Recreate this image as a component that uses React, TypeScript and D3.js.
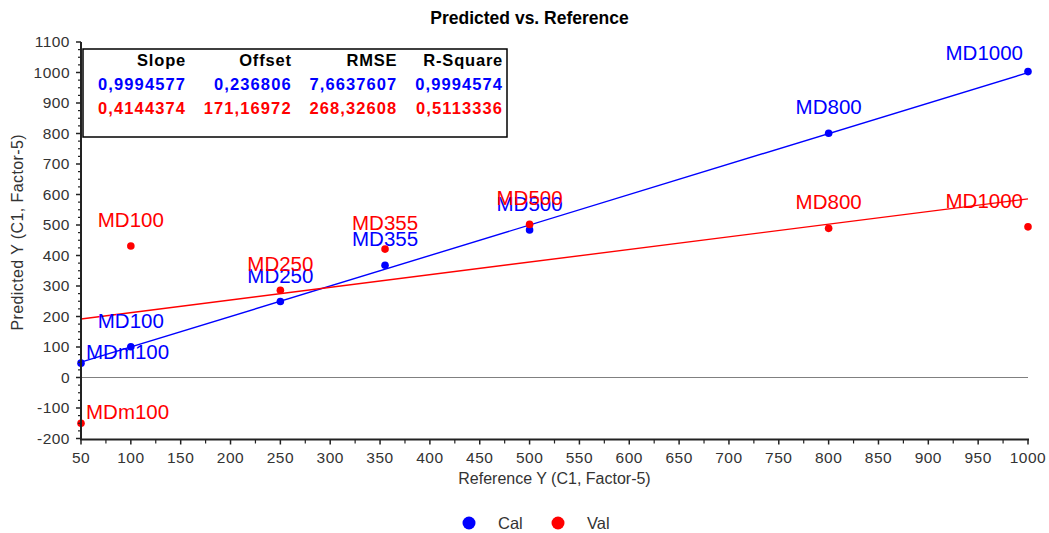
import React from 'react';
import * as d3 from 'd3';

// Sample labels and reference values (x)
const sampleNames = ['MDm100', 'MD100', 'MD250', 'MD355', 'MD500', 'MD800', 'MD1000'];
const referenceY = [50, 100, 250, 355, 500, 800, 1000];

// Predicted values per set
const calPredicted = [47, 101, 249, 368, 484, 801, 1003];
const valPredicted = [-150, 431, 286, 421, 502, 489, 494];

// Regression statistics
const statHeaders = ['Slope', 'Offset', 'RMSE', 'R-Square'];
const calStats = [0.9994577, 0.236806, 7.6637607, 0.9994574];
const valStats = [0.4144374, 171.16972, 268.32608, 0.5113336];

const xTicks = d3.range(50, 1001, 50);
const yTicks = d3.range(-200, 1101, 100);

const W = 1049;
const H = 533;
const FONT = '"Liberation Sans", Arial, sans-serif';

const series = [
  { name: 'Cal', color: '#0000ff', values: calPredicted, stats: calStats },
  { name: 'Val', color: '#ff0000', values: valPredicted, stats: valStats },
];

const fmt = (v: number) => String(v).replace('.', ',');

// rough Arial advance widths (em) for the label glyphs
const charW: Record<string, number> = { M: 0.833, D: 0.722, m: 0.833 };
const textWidth = (s: string, size: number) =>
  s.split('').reduce((acc, c) => acc + (charW[c] ?? 0.556), 0) * size;

export default function App() {
  const left = 81, right = 1028, top = 42, bottom = 438.5;
  const x = d3.scaleLinear().domain([50, 1000]).range([left, right]);
  const y = d3.scaleLinear().domain([-200, 1100]).range([bottom, top]);

  const minorX = d3.range(75, 1000, 50);
  const minorY = d3.range(-175, 1100, 25).filter(v => v % 100 !== 0);

  const line = d3.line<[number, number]>().x(d => x(d[0])).y(d => y(d[1]));

  // label placement: centered above the point, kept inside the plot
  const labelFontSize = 20.5;
  const labelPos = (name: string, px: number, py: number) => {
    const w = textWidth(name, labelFontSize);
    let lx = px - w / 2;
    let ly = py - 19;
    if (lx < left + 5) {
      lx = left + 5;
      ly = py - 4;
    }
    if (lx + w > right - 5) lx = right - 5 - w;
    if (ly - 15 < top + 3) ly = top + 18;
    return { lx, ly };
  };

  const boxX = 83, boxY = 49, boxW = 424, boxH = 88;
  const colRight = (i: number) => boxX + 103 + i * 105.7;
  const rowY = [66, 89.5, 113.5];

  return (
    <svg width={W} height={H} style={{ position: 'absolute', left: 0, top: 0, background: '#fff' }} fontFamily={FONT}>
      <text x={529.5} y={24} textAnchor="middle" fontWeight="bold" fontSize={17.5} fill="#000">
        Predicted vs. Reference
      </text>

      {/* zero line */}
      <line x1={left} x2={right} y1={y(0)} y2={y(0)} stroke="#808080" strokeWidth={1} />

      {/* regression lines */}
      {series.map(s => (
        <path
          key={s.name + '-fit'}
          d={line([[50, s.stats[0] * 50 + s.stats[1]], [1000, s.stats[0] * 1000 + s.stats[1]]]) || ''}
          fill="none"
          stroke={s.color}
          strokeWidth={1.4}
        />
      ))}

      {/* points + labels */}
      {series.map(s => (
        <g key={s.name}>
          {s.values.map((v, i) => (
            <circle key={i} cx={x(referenceY[i])} cy={y(v)} r={3.8} fill={s.color} />
          ))}
          {s.values.map((v, i) => {
            const { lx, ly } = labelPos(sampleNames[i], x(referenceY[i]), y(v));
            return (
              <text key={'l' + i} x={lx} y={ly} fontSize={labelFontSize} fill={s.color}>
                {sampleNames[i]}
              </text>
            );
          })}
        </g>
      ))}

      {/* axes */}
      <line x1={left} x2={left} y1={top} y2={bottom + 1} stroke="#222" strokeWidth={2} />
      <line x1={left - 1} x2={right + 1} y1={bottom + 1} y2={bottom + 1} stroke="#222" strokeWidth={2} />
      {yTicks.map(t => (
        <g key={'yt' + t}>
          <line x1={left - 5} x2={left} y1={y(t)} y2={y(t)} stroke="#222" strokeWidth={1.5} />
          <text x={left - 11} y={y(t)} dy="0.35em" textAnchor="end" fontSize={15.5} letterSpacing={0.5} fill="#333">
            {t}
          </text>
        </g>
      ))}
      {minorY.map(t => (
        <line key={'ym' + t} x1={left - 3} x2={left} y1={y(t)} y2={y(t)} stroke="#222" strokeWidth={1.2} />
      ))}
      {xTicks.map(t => (
        <g key={'xt' + t}>
          <line x1={x(t)} x2={x(t)} y1={bottom + 1} y2={bottom + 6} stroke="#222" strokeWidth={1.5} />
          <text x={x(t)} y={463} textAnchor="middle" fontSize={15.5} letterSpacing={0.5} fill="#333">
            {t}
          </text>
        </g>
      ))}
      {minorX.map(t => (
        <line key={'xm' + t} x1={x(t)} x2={x(t)} y1={bottom + 1} y2={bottom + 5} stroke="#222" strokeWidth={1.2} />
      ))}

      <text x={(left + right) / 2} y={484} textAnchor="middle" fontSize={16} fill="#333">
        Reference Y (C1, Factor-5)
      </text>
      <text transform={`translate(23, ${(top + bottom) / 2 - 8}) rotate(-90)`} textAnchor="middle" fontSize={16} letterSpacing={0.4} fill="#333">
        Predicted Y (C1, Factor-5)
      </text>

      {/* stats box */}
      <rect x={boxX} y={boxY} width={boxW} height={boxH} fill="#fff" stroke="#000" strokeWidth={1.5} />
      {statHeaders.map((h, i) => (
        <text key={'h' + i} x={colRight(i)} y={rowY[0]} textAnchor="end" fontWeight="bold" fontSize={16.5} letterSpacing={0.8} fill="#000">
          {h}
        </text>
      ))}
      {series.map((s, r) =>
        s.stats.map((v, i) => (
          <text key={s.name + 's' + i} x={colRight(i)} y={rowY[r + 1]} textAnchor="end" fontWeight="bold" fontSize={16.5} letterSpacing={1.1} fill={s.color}>
            {fmt(v)}
          </text>
        ))
      )}

      {/* legend */}
      {series.map((s, i) => (
        <g key={'lg' + s.name} transform={`translate(${469 + i * 89}, 523)`}>
          <circle cx={0} cy={0} r={6.5} fill={s.color} />
          <text x={29} y={5.5} fontSize={16.5} fill="#333">
            {s.name}
          </text>
        </g>
      ))}
    </svg>
  );
}
